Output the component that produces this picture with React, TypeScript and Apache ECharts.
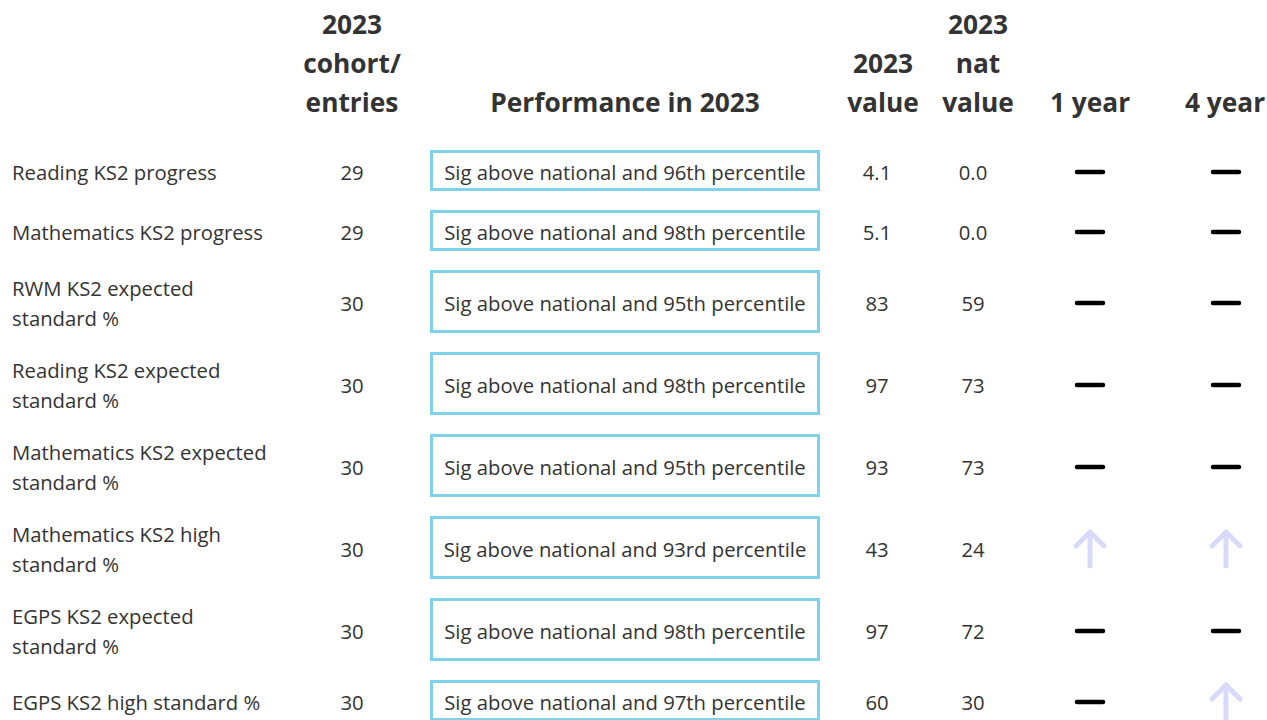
import React, { useEffect, useRef } from "react";
import * as echarts from "echarts";

const rowLabels = [
  "Reading KS2 progress",
  "Mathematics KS2 progress",
  "RWM KS2 expected\nstandard %",
  "Reading KS2 expected\nstandard %",
  "Mathematics KS2 expected\nstandard %",
  "Mathematics KS2 high\nstandard %",
  "EGPS KS2 expected\nstandard %",
  "EGPS KS2 high standard %",
];
const cohort = ["29", "29", "30", "30", "30", "30", "30", "30"];
const percentiles = ["96th", "98th", "95th", "98th", "95th", "93rd", "98th", "97th"];
const values2023 = ["4.1", "5.1", "83", "97", "93", "43", "97", "60"];
const natValues = ["0.0", "0.0", "59", "73", "73", "24", "72", "30"];
const trend1 = ["flat", "flat", "flat", "flat", "flat", "up", "flat", "flat"];
const trend4 = ["flat", "flat", "flat", "flat", "flat", "up", "flat", "up"];

const headers = [
  { lines: ["2023", "cohort/", "entries"], x: 352 },
  { lines: ["Performance in 2023"], x: 625 },
  { lines: ["2023", "value"], x: 883 },
  { lines: ["2023", "nat", "value"], x: 978 },
  { lines: ["1 year"], x: 1090 },
  { lines: ["4 year"], x: 1225 },
];

const FONT = "'Open Sans', 'Noto Sans', sans-serif";
const TEXT = "#333333";
const BOX = "#7ed3eb";
const ARROW = "#d9d9fc";
const BODY = 20.3;
const HEAD = 26.3;

// layout
const firstTop = 150;
const boxH1 = 41;
const boxH2 = 63;
const gap = 19;
const col = { label: 12, cohort: 352, boxL: 431.5, boxR: 818.5, value: 877, nat: 973, t1: 1090, t4: 1226 };

const rowData: number[][] = [];
{
  let top = firstTop;
  rowLabels.forEach((l, i) => {
    const h = l.includes("\n") ? boxH2 : boxH1;
    rowData.push([i, top, h]);
    top += h + gap;
  });
}

function trendShape(kind: string, cx: number, cy: number) {
  if (kind === "up") {
    return {
      type: "group",
      children: [
        {
          type: "line",
          shape: { x1: cx, y1: cy + 17, x2: cx, y2: cy - 17 },
          style: { stroke: ARROW, lineWidth: 5, lineCap: "round" },
        },
        {
          type: "polyline",
          shape: { points: [[cx - 14, cy - 3], [cx, cy - 17], [cx + 14, cy - 3]] },
          style: { stroke: ARROW, lineWidth: 5, lineCap: "round", lineJoin: "round", fill: "none" },
        },
      ],
    };
  }
  return {
    type: "line",
    shape: { x1: cx - 13, y1: cy, x2: cx + 13, y2: cy },
    style: { stroke: "#000", lineWidth: 4.5, lineCap: "round" },
  };
}

function txt(text: string, x: number, y: number, align: string, size: number, weight = "normal", lh?: number) {
  return {
    type: "text",
    style: {
      text,
      x,
      y,
      fill: TEXT,
      fontSize: size,
      fontWeight: weight,
      fontFamily: FONT,
      lineHeight: lh,
      textAlign: align,
      textVerticalAlign: "middle",
      align,
      verticalAlign: "middle",
    },
  };
}

export default function App() {
  const ref = useRef<HTMLDivElement>(null);
  useEffect(() => {
    document.body.style.margin = "0";
    const chart = echarts.init(ref.current!, undefined, { renderer: "svg" });
    const graphic: any[] = [];
    headers.forEach((h) => {
      const n = h.lines.length;
      h.lines.forEach((line, i) => {
        graphic.push({
          type: "text",
          x: h.x,
          y: 102 - 39 * (n - 1 - i),
          style: {
            text: line,
            fill: TEXT,
            fontSize: HEAD,
            fontWeight: "bold",
            fontFamily: FONT,
            textAlign: "center",
            textVerticalAlign: "middle",
            align: "center",
            verticalAlign: "middle",
          },
        });
      });
    });
    chart.setOption({
      animation: false,
      backgroundColor: "#ffffff",
      grid: { left: 0, right: 0, top: 0, bottom: 0 },
      xAxis: { type: "value", min: 0, max: 1267, show: false },
      yAxis: { type: "value", min: 0, max: 720, inverse: true, show: false },
      graphic,
      series: [
        {
          type: "custom",
          data: rowData,
          clip: false,
          renderItem: (params: any, api: any) => {
            const i = api.value(0);
            const top = api.value(1);
            const h = api.value(2);
            const [xL, yT] = api.coord([col.boxL, top]);
            const [xR, yB] = api.coord([col.boxR, top + h]);
            const cy = (yT + yB) / 2 + 1.5;
            const px = (x: number) => api.coord([x, 0])[0];
            return {
              type: "group",
              children: [
                txt(rowLabels[i], px(col.label), cy, "left", BODY, "normal", 30),
                txt(cohort[i], px(col.cohort), cy, "center", BODY),
                {
                  type: "rect",
                  shape: { x: xL, y: yT + 1.5, width: xR - xL, height: yB - yT - 3 },
                  style: { fill: "#fff", stroke: BOX, lineWidth: 3 },
                },
                txt("Sig above national and " + percentiles[i] + " percentile", (xL + xR) / 2, cy, "center", BODY),
                txt(values2023[i], px(col.value), cy, "center", BODY),
                txt(natValues[i], px(col.nat), cy, "center", BODY),
                trendShape(trend1[i], px(col.t1), cy),
                trendShape(trend4[i], px(col.t4), cy),
              ],
            };
          },
        },
      ],
    });
    return () => chart.dispose();
  }, []);
  return <div ref={ref} style={{ width: 1267, height: 720 }} />;
}
